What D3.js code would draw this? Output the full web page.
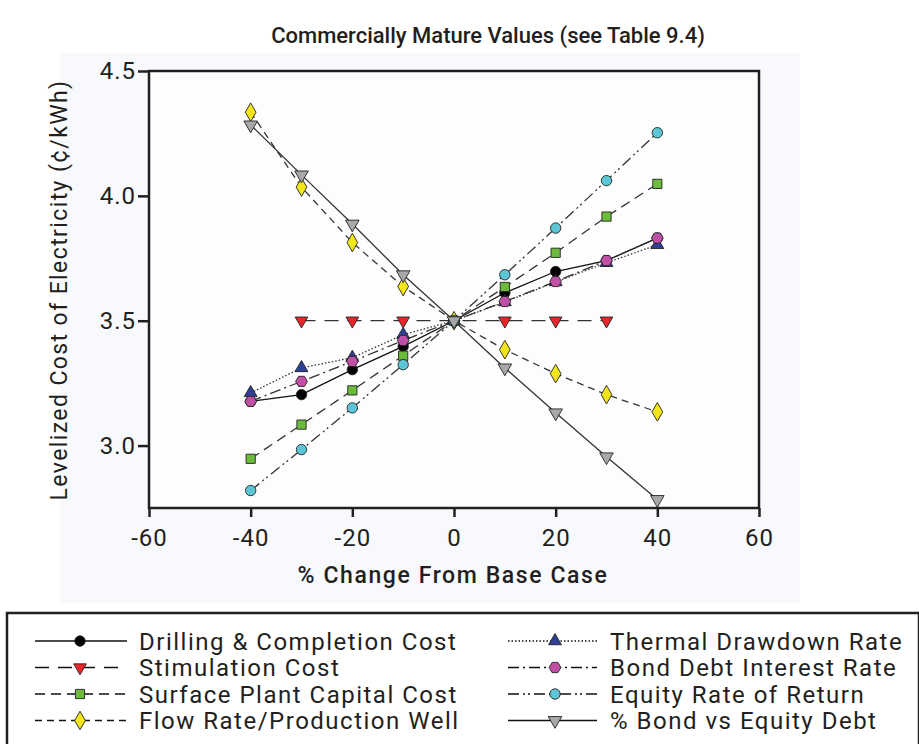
<!DOCTYPE html>
<html><head><meta charset="utf-8">
<script src="https://cdn.jsdelivr.net/npm/d3@7"></script>
<style>
body{margin:0;background:#fff;}
svg text{font-family:Roboto,"Noto Sans",sans-serif;fill:#231f20;}
</style></head>
<body><svg id="c" width="919" height="744"></svg>
<script>
const pct = [-40,-30,-20,-10,0,10,20,30,40];
const drilling    = [3.177,3.204,3.304,3.397,3.5,3.612,3.697,3.741,3.831];
const stimulation = [null,3.5,3.5,3.5,3.5,3.5,3.5,3.5,null];
const surface     = [2.947,3.084,3.221,3.360,3.5,3.635,3.772,3.917,4.048];
const flowRate    = [4.335,4.035,3.813,3.637,3.5,3.384,3.288,3.204,3.135];
const thermal     = [3.211,3.311,3.352,3.444,3.5,3.575,3.655,3.732,3.804];
const bondRate    = [3.177,3.257,3.337,3.421,3.5,3.577,3.657,3.741,3.831];
const equity      = [2.820,2.984,3.151,3.324,3.5,3.684,3.871,4.061,4.253];
const bondEquity  = [4.284,4.084,3.887,3.684,3.5,3.311,3.131,2.955,2.784];
const xTicks = [-60,-40,-20,0,20,40,60];
const yTicks = [3.0,3.5,4.0,4.5];
const names = ["Drilling & Completion Cost","Stimulation Cost","Surface Plant Capital Cost","Flow Rate/Production Well",
               "Thermal Drawdown Rate","Bond Debt Interest Rate","Equity Rate of Return","% Bond vs Equity Debt"];

const series = [
  {name:names[0], v:drilling,    sym:d3.symbolCircle,   size:85,  fill:"#000",    dash:null,            lc:"#111"},
  {name:names[1], v:stimulation, sym:"tdown",           size:70,  fill:"#e8262a", dash:"14,9",          lc:"#333"},
  {name:names[2], v:surface,     sym:d3.symbolSquare,   size:85,  fill:"#6cbb3c", dash:"10,6",          lc:"#333"},
  {name:names[3], v:flowRate,    sym:d3.symbolDiamond,  size:100, fill:"#f3e51c", dash:"7,5",           lc:"#333"},
  {name:names[4], v:thermal,     sym:d3.symbolTriangle, size:72,  fill:"#2e3f95", dash:"1.5,2",         lc:"#333"},
  {name:names[5], v:bondRate,    sym:"hex",             size:90,  fill:"#c050a5", dash:"11,4,2,4",      lc:"#333"},
  {name:names[6], v:equity,      sym:d3.symbolCircle,   size:85,  fill:"#5cc5d6", dash:"11,4,2,3,2,4",  lc:"#333"},
  {name:names[7], v:bondEquity,  sym:"tdown",           size:80,  fill:"#a8a8a8", dash:null,            lc:"#333"}
];
const drawOrder = [0,4,5,1,2,3,6,7];

const svg = d3.select("#c");
const M = {l:149, r:759, t:71, b:508};
const x = d3.scaleLinear().domain([-60,60]).range([M.l,M.r]);
const y = d3.scaleLinear().domain([2.75,4.5]).range([M.b,M.t]);

svg.append("rect").attr("x",60).attr("y",53).attr("width",740).attr("height",550).attr("fill","#f8f9fc");
svg.append("rect").attr("x",M.l).attr("y",M.t).attr("width",M.r-M.l).attr("height",M.b-M.t).attr("fill","#fdfdfe");

function symPath(s, size){
  if (s==="tdown") return d3.symbol().type(d3.symbolTriangle).size(size)();
  if (s==="hex"){
    const r = Math.sqrt(size/2.6);
    const pts = d3.range(6).map(i=>{const a=Math.PI/3*i; return [r*Math.cos(a), r*Math.sin(a)];});
    return "M"+pts.map(p=>p.join(",")).join("L")+"Z";
  }
  return d3.symbol().type(s).size(size)();
}
function symTransform(s, px, py){
  return s==="tdown" ? `translate(${px},${py}) rotate(180)` : `translate(${px},${py})`;
}

const line = d3.line().defined(d=>d[1]!=null).x(d=>x(d[0])).y(d=>y(d[1]));
const g = svg.append("g");
drawOrder.forEach(i=>{
  const s = series[i];
  const pts = pct.map((p,k)=>[p,s.v[k]]);
  g.append("path").attr("d",line(pts)).attr("fill","none").attr("stroke",s.lc)
    .attr("stroke-width",1.3).attr("stroke-dasharray",s.dash);
});
drawOrder.forEach(i=>{
  const s = series[i];
  pct.forEach((p,k)=>{
    if (s.v[k]==null) return;
    g.append("path").attr("d",symPath(s.sym,s.size)).attr("transform",symTransform(s.sym,x(p),y(s.v[k])))
      .attr("fill",s.fill).attr("stroke","#222").attr("stroke-width",0.9);
  });
});

svg.append("rect").attr("x",M.l).attr("y",M.t).attr("width",M.r-M.l).attr("height",M.b-M.t)
  .attr("fill","none").attr("stroke","#231f20").attr("stroke-width",2.5);

const xa = svg.append("g").attr("transform",`translate(0,${M.b})`)
  .call(d3.axisBottom(x).tickValues(xTicks).tickSize(9).tickPadding(12).tickFormat(d=>String(d)));
const ya = svg.append("g").attr("transform",`translate(${M.l},0)`)
  .call(d3.axisLeft(y).tickValues(yTicks).tickSize(11).tickPadding(2).tickFormat(d3.format(".1f")));
[xa,ya].forEach(a=>{
  a.select(".domain").remove();
  a.selectAll(".tick line").attr("stroke","#231f20").attr("stroke-width",2.5);
  a.selectAll(".tick text").attr("font-size",24).attr("fill","#231f20").attr("font-family","Roboto")
    .attr("letter-spacing","1px");
});

svg.append("text").attr("x",453).attr("y",583).attr("text-anchor","middle").attr("font-size",23).attr("font-weight",500)
  .attr("letter-spacing","1.6px").text("% Change From Base Case");
svg.append("text").attr("transform","translate(67,290) rotate(-90)").attr("text-anchor","middle").attr("font-size",23)
  .attr("letter-spacing","1.4px").text("Levelized Cost of Electricity (¢/kWh)");
svg.append("text").attr("x",488).attr("y",43).attr("text-anchor","middle").attr("font-size",22).attr("font-weight",500)
  .text("Commercially Mature Values (see Table 9.4)");

svg.append("rect").attr("x",7).attr("y",613).attr("width",912).attr("height",160).attr("fill","#fff")
  .attr("stroke","#231f20").attr("stroke-width",2.5);
const rowY = [641,667.5,694,720.5];
series.forEach((s,i)=>{
  const col = i<4 ? 0 : 1, row = i%4;
  const x0 = col ? 508 : 35, x1 = col ? 597 : 127, xm = col ? 555 : 80, tx = col ? 610 : 139;
  const yy = rowY[row];
  svg.append("line").attr("x1",x0).attr("x2",x1).attr("y1",yy).attr("y2",yy).attr("stroke","#111")
    .attr("stroke-width",1.3).attr("stroke-dasharray",s.dash);
  svg.append("path").attr("d",symPath(s.sym,s.size)).attr("transform",symTransform(s.sym,xm,yy))
    .attr("fill",s.fill).attr("stroke","#222").attr("stroke-width",0.9);
  svg.append("text").attr("x",tx).attr("y",yy).attr("dy","0.36em").attr("font-size",24)
    .attr("letter-spacing","1.5px").text(s.name);
});
</script></body></html>
